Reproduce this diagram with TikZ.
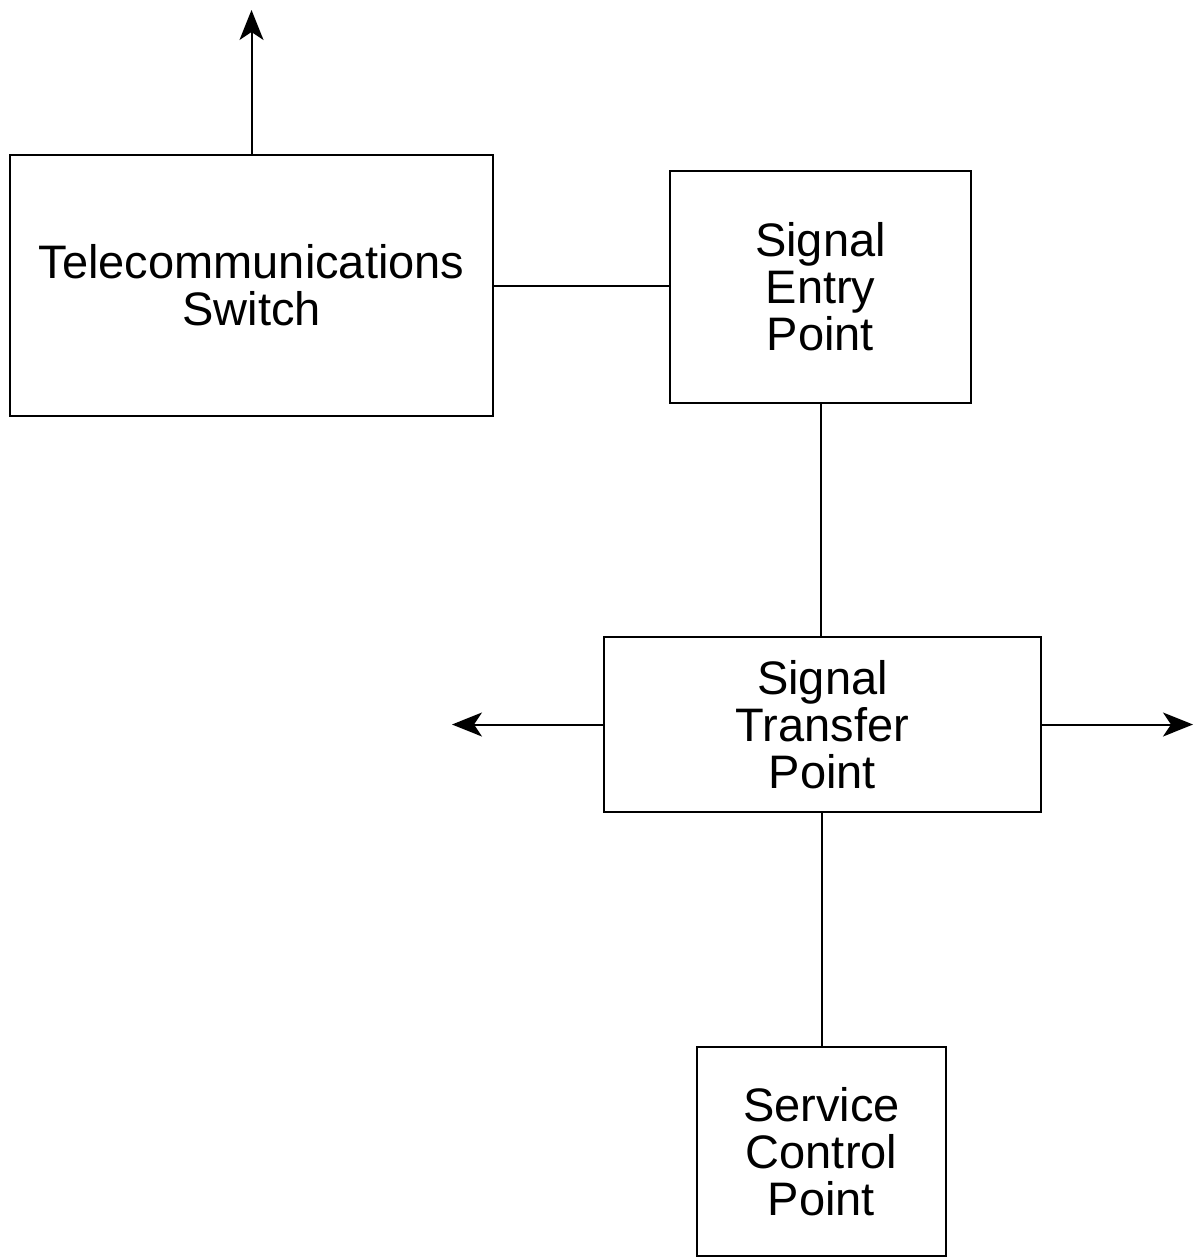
\documentclass[tikz,border=0pt]{standalone}
\usepackage{fontspec}
\setmainfont{Liberation Sans}
\usetikzlibrary{arrows.meta}

\tikzset{
  bloco/.style={rectangle, draw, line width=2pt, align=center,
    font=\fontsize{47}{47}\selectfont, inner sep=0pt},
  seta/.style={line width=2pt, -{Stealth[length=30pt,width=24pt,inset=8pt]}},
  linha/.style={line width=2pt}
}

\begin{document}
\begin{tikzpicture}[x=1pt, y=-1pt]
\useasboundingbox (0,0) rectangle (1195,1258);

\node[bloco, minimum width=483pt, minimum height=261pt] (TS) at (251.5,285.5) {Telecommunications\\Switch};
\node[bloco, minimum width=301pt, minimum height=232pt] (SEP) at (820.5,287) {Signal\\Entry\\Point};
\node[bloco, minimum width=437pt, minimum height=175pt] (STP) at (822.5,724.5) {Signal\\Transfer\\Point};
\node[bloco, minimum width=249pt, minimum height=209pt] (SCP) at (821.5,1151.5) {Service\\Control\\Point};

% pontas livres
\coordinate (cima) at (251.5,10);
\coordinate (esq) at (452,724.5);
\coordinate (dir) at (1193,724.5);

\draw[seta] (TS.north) -- (cima);
\draw[linha] (TS.east) -- (TS.east -| SEP.west);
\draw[linha] (SEP.south) -- (SEP.south |- STP.north);
\draw[seta] (STP.west) -- (esq);
\draw[seta] (STP.east) -- (dir);
\draw[linha] (STP.south -| SCP.north) -- (SCP.north);
\end{tikzpicture}
\end{document}
